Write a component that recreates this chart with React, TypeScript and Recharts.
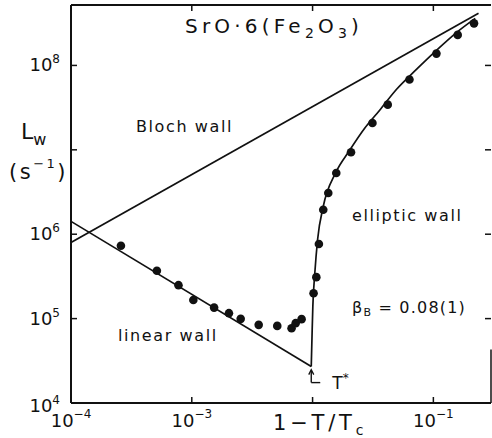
import React from 'react';
import {
  ComposedChart,
  Line,
  Scatter,
  XAxis,
  YAxis,
  ReferenceDot,
  ReferenceLine,
  Customized,
} from 'recharts';

// ---------- data ----------
const X_DOMAIN: [number, number] = [1e-4, 0.3];
const Y_DOMAIN: [number, number] = [1e4, 5.2e8];

const xTicks = [1e-4, 1e-3, 1e-2, 1e-1];
const xTickExps = ['−4', '−3', '', '−1'];
const yTicks = [1e4, 1e5, 1e6, 1e7, 1e8];
const yTickExps = ['4', '5', '6', '', '8'];

// measured L_w points (filled circles)
const measX = [
  2.59e-4, 5.14e-4, 7.76e-4, 1.03e-3, 1.53e-3, 2.03e-3, 2.54e-3, 3.58e-3,
  5.1e-3, 6.7e-3, 7.24e-3, 8.11e-3, 1.019e-2, 1.074e-2, 1.128e-2, 1.226e-2,
  1.349e-2, 1.571e-2, 2.08e-2, 3.13e-2, 4.19e-2, 6.34e-2, 0.106, 0.159, 0.217,
];
const measL = [
  7.31e5, 3.69e5, 2.49e5, 1.66e5, 1.35e5, 1.16e5, 9.93e4, 8.43e4,
  8.2e4, 7.7e4, 8.83e4, 9.85e4, 2.0e5, 3.1e5, 7.66e5, 1.95e6,
  3.08e6, 5.32e6, 9.35e6, 2.08e7, 3.43e7, 6.82e7, 1.38e8, 2.3e8, 3.15e8,
];

// elliptic-wall fit curve
const ellipX = [
  9.75e-3, 9.9e-3, 1.005e-2, 1.044e-2, 1.1e-2, 1.226e-2, 1.55e-2, 2.02e-2,
  2.69e-2, 3.58e-2, 4.94e-2, 7.24e-2, 0.106, 0.158, 0.222,
];
const ellipL = [
  2.7e4, 6.4e4, 1.39e5, 3.49e5, 8.6e5, 2.14e6, 5.32e6, 9.8e6,
  1.79e7, 2.93e7, 5.19e7, 8.98e7, 1.51e8, 2.5e8, 3.61e8,
];

// linear-wall straight line
const linearX = [1e-4, 9.75e-3];
const linearL = [1.42e6, 2.7e4];

// Bloch-wall straight line
const blochX = [1e-4, 0.2366];
const blochL = [8.0e5, 4.14e8];

const tStarX = 9.75e-3;
const tStarL = 2.7e4;

const rightFrameL = [1e4, 4.3e4];

// ---------- helpers ----------
const rows = (xs: number[], ys: number[]) => xs.map((x, i) => ({ x, y: ys[i] }));
const measRows = rows(measX, measL);
const ellipRows = rows(ellipX, ellipL);
const linearRows = rows(linearX, linearL);
const blochRows = rows(blochX, blochL);

const FONT = '"DejaVu Sans", "Liberation Sans", sans-serif';
const INK = '#111';

const idxOf = (arr: number[], v: number) =>
  arr.findIndex((t) => Math.abs(Math.log10(t) - Math.log10(v)) < 1e-6);

function BottomTick(props: any) {
  const { x, y, payload } = props;
  const i = idxOf(xTicks, payload.value);
  const exp = i >= 0 ? xTickExps[i] : '';
  return (
    <g>
      <line x1={x} x2={x} y1={y} y2={y - 6} stroke={INK} strokeWidth={1.5} />
      {exp ? (
        <text x={x} y={y + 24} textAnchor="middle" fontFamily={FONT} fontSize={18} fill={INK}>
          10
          <tspan fontSize={12} dy={-9}>
            {exp}
          </tspan>
        </text>
      ) : null}
    </g>
  );
}

function TopTick(props: any) {
  const { x, y } = props;
  return <line x1={x} x2={x} y1={y} y2={y + 6} stroke={INK} strokeWidth={1.5} />;
}

function LeftTick(props: any) {
  const { x, y, payload } = props;
  const i = idxOf(yTicks, payload.value);
  const exp = i >= 0 ? yTickExps[i] : '';
  return (
    <g>
      <line x1={x} x2={x + 6} y1={y} y2={y} stroke={INK} strokeWidth={1.5} />
      {exp ? (
        <text x={x - 11} y={y + (i === 0 ? 9 : 6)} textAnchor="end" fontFamily={FONT} fontSize={18} fill={INK}>
          10
          <tspan fontSize={12} dy={-8}>
            {exp}
          </tspan>
        </text>
      ) : null}
    </g>
  );
}

function RightTick(props: any) {
  const { x, y } = props;
  return <line x1={x} x2={x - 6} y1={y} y2={y} stroke={INK} strokeWidth={1.5} />;
}

const Dot = (p: any) => <circle cx={p.cx} cy={p.cy} r={4.3} fill={INK} />;

const TStarMarker = (p: any) => {
  const { cx, cy } = p;
  return (
    <g>
      <line x1={cx} x2={cx} y1={cy + 4} y2={cy + 16} stroke={INK} strokeWidth={1.4} />
      <path d={`M${cx - 2.5},${cy + 8} L${cx},${cy + 3} L${cx + 2.5},${cy + 8}`} fill="none" stroke={INK} strokeWidth={1.3} />
      <line x1={cx} x2={cx + 9} y1={cy + 16} y2={cy + 16} stroke={INK} strokeWidth={1.4} />
      <text x={cx + 21} y={cy + 22} fontFamily={FONT} fontSize={17} fill={INK}>
        T
        <tspan fontSize={12} dy={-7}>
          *
        </tspan>
      </text>
    </g>
  );
};

const Annotations = () => (
  <g fontFamily={FONT} fill={INK}>
    <text x={185} y={33} fontSize={20} letterSpacing={4.2}>
      SrO·6(Fe
      <tspan fontSize={14} dy={5}>
        2
      </tspan>
      <tspan dy={-5}>O</tspan>
      <tspan fontSize={14} dy={5}>
        3
      </tspan>
      <tspan dy={-5}>)</tspan>
    </text>
    <text x={136} y={132} fontSize={16} letterSpacing={1.6}>
      Bloch wall
    </text>
    <text x={118} y={341} fontSize={16} letterSpacing={1.6}>
      linear wall
    </text>
    <text x={352} y={221} fontSize={16} letterSpacing={1.6}>
      elliptic wall
    </text>
    <text x={352} y={313} fontSize={16} letterSpacing={1.2}>
      β
      <tspan fontSize={11} dy={3}>
        B
      </tspan>
      <tspan dy={-3}> = 0.08(1)</tspan>
    </text>
    <text x={21} y={139} fontSize={22}>
      L
      <tspan fontSize={16} dy={6}>
        w
      </tspan>
    </text>
    <text x={9} y={179} fontSize={21} letterSpacing={2.5}>
      (s
      <tspan fontSize={13} dy={-11}>
        −1
      </tspan>
      <tspan dy={11}>)</tspan>
    </text>
    <text x={273} y={430} fontSize={21} letterSpacing={3.8}>
      1−T/T
      <tspan fontSize={14} dy={5}>
        c
      </tspan>
    </text>
  </g>
);

export default function App() {
  return (
    <div style={{ position: 'absolute', left: 0, top: 0, width: 492, height: 438, background: '#fff' }}>
      <ComposedChart width={492} height={438} margin={{ top: 4, right: 0, bottom: 34, left: 70 }}>
        <XAxis
          xAxisId="b"
          dataKey="x"
          type="number"
          scale="log"
          domain={X_DOMAIN}
          allowDataOverflow
          ticks={xTicks}
          interval={0}
          orientation="bottom"
          height={1}
          tickSize={0}
          tickMargin={0}
          tickLine={false}
          axisLine={{ stroke: INK, strokeWidth: 2 }}
          tick={<BottomTick />}
        />
        <XAxis
          xAxisId="t"
          dataKey="x"
          type="number"
          scale="log"
          domain={X_DOMAIN}
          allowDataOverflow
          ticks={xTicks}
          interval={0}
          orientation="top"
          height={1}
          tickSize={0}
          tickMargin={0}
          tickLine={false}
          axisLine={{ stroke: INK, strokeWidth: 1.8 }}
          tick={<TopTick />}
        />
        <YAxis
          yAxisId="l"
          dataKey="y"
          type="number"
          scale="log"
          domain={Y_DOMAIN}
          allowDataOverflow
          ticks={yTicks}
          interval={0}
          orientation="left"
          width={1}
          tickSize={0}
          tickMargin={0}
          tickLine={false}
          axisLine={{ stroke: INK, strokeWidth: 2 }}
          tick={<LeftTick />}
        />
        <YAxis
          yAxisId="r"
          dataKey="y"
          type="number"
          scale="log"
          domain={Y_DOMAIN}
          allowDataOverflow
          ticks={yTicks}
          interval={0}
          orientation="right"
          width={1}
          tickSize={0}
          tickMargin={0}
          tickLine={false}
          axisLine={false}
          tick={<RightTick />}
        />
        <ReferenceLine
          xAxisId="b"
          yAxisId="l"
          segment={[
            { x: X_DOMAIN[1], y: rightFrameL[0] },
            { x: X_DOMAIN[1], y: rightFrameL[1] },
          ]}
          stroke={INK}
          strokeWidth={1.5}
          ifOverflow="visible"
        />
        <Line xAxisId="b" yAxisId="l" data={blochRows} dataKey="y" type="linear" stroke={INK} strokeWidth={1.7} dot={false} isAnimationActive={false} />
        <Line xAxisId="b" yAxisId="l" data={linearRows} dataKey="y" type="linear" stroke={INK} strokeWidth={1.7} dot={false} isAnimationActive={false} />
        <Line xAxisId="b" yAxisId="l" data={ellipRows} dataKey="y" type="monotone" stroke={INK} strokeWidth={1.7} dot={false} isAnimationActive={false} />
        <Scatter xAxisId="b" yAxisId="l" data={measRows} dataKey="y" fill={INK} shape={<Dot />} isAnimationActive={false} />
        <ReferenceDot xAxisId="b" yAxisId="l" x={tStarX} y={tStarL} r={0} shape={<TStarMarker />} ifOverflow="visible" />
        <Customized component={<Annotations />} />
      </ComposedChart>
    </div>
  );
}
